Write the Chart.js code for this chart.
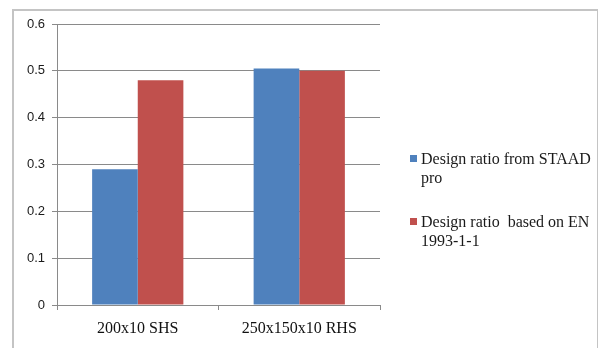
<!DOCTYPE html>
<html>
<head>
<meta charset="utf-8">
<script src="https://cdn.jsdelivr.net/npm/chart.js@4/dist/chart.umd.min.js"></script>
<style>
  html, body { margin: 0; padding: 0; background: #fff; }
  #wrap { position: relative; width: 600px; height: 348px; overflow: hidden; background: #fff; }
  #frame { position: absolute; left: 12px; top: 9px; width: 586px; height: 400px;
           border: 2px solid #c4c4c4; border-right-width: 1px; box-sizing: border-box; }
  #chart { position: absolute; left: 0; top: 0; }
  .legend-item { position: absolute; left: 410px; font-family: "Liberation Serif", "Times New Roman", serif;
                 font-size: 16px; line-height: 19px; color: #1a1a1a; }
  .legend-item .swatch { position: absolute; left: 0; width: 7px; height: 7px; }
  .legend-item .label { position: absolute; left: 11px; width: 185px; white-space: pre; }
</style>
</head>
<body>
<div id="wrap">
  <div id="frame"></div>
  <canvas id="chart" width="600" height="348"></canvas>
  <div id="legend"></div>
</div>
<script>
// Section types compared
const categories = ['200x10 SHS', '250x150x10 RHS'];

// Utilisation ratios
const staadRatios = [0.29, 0.505];
const en1993Ratios = [0.48, 0.50];

// Series names and colours
const seriesNames = ['Design ratio from STAAD\npro', 'Design ratio  based on EN\n1993-1-1'];
const seriesColors = ['#4F81BD', '#C0504D'];

// Value axis range
const yMin = 0, yMax = 0.6, yStep = 0.1;

const gridGray = '#8a8a8a';

new Chart(document.getElementById('chart'), {
  type: 'bar',
  data: {
    labels: categories,
    datasets: [
      { label: seriesNames[0], data: staadRatios, backgroundColor: seriesColors[0],
        categoryPercentage: 0.565, barPercentage: 1.0, borderWidth: 0 },
      { label: seriesNames[1], data: en1993Ratios, backgroundColor: seriesColors[1],
        categoryPercentage: 0.565, barPercentage: 1.0, borderWidth: 0 }
    ]
  },
  options: {
    responsive: false,
    animation: false,
    layout: { padding: { left: 0, top: 24, right: 220, bottom: 0 } },
    plugins: { legend: { display: false }, tooltip: { enabled: false } },
    scales: {
      x: {
        grid: { offset: true, drawOnChartArea: false, drawTicks: true, tickLength: 5, color: gridGray },
        border: { color: gridGray, width: 1 },
        ticks: { color: '#111', padding: 9, maxRotation: 0,
                 font: { family: '"Liberation Serif", "Times New Roman", serif', size: 16 } },
        afterFit: (scale) => { scale.height = 43; }
      },
      y: {
        min: yMin, max: yMax,
        grid: { color: gridGray, tickLength: 5 },
        border: { color: gridGray, width: 1 },
        ticks: { stepSize: yStep, color: '#1a1a1a', padding: 7,
                 font: { family: '"Liberation Sans", Arial, sans-serif', size: 13 },
                 callback: (v) => String(Number(v.toFixed(1))) },
        afterFit: (scale) => { scale.width = 57; }
      }
    }
  }
});

// Legend on the right, with wrapped series names
const legendTops = [149, 212];
const legend = document.getElementById('legend');
seriesNames.forEach((name, i) => {
  const item = document.createElement('div');
  item.className = 'legend-item';
  item.style.top = legendTops[i] + 'px';
  const sw = document.createElement('div');
  sw.className = 'swatch';
  sw.style.background = seriesColors[i];
  sw.style.top = '6px';
  const lb = document.createElement('div');
  lb.className = 'label';
  lb.textContent = name;
  item.appendChild(sw);
  item.appendChild(lb);
  legend.appendChild(item);
});
</script>
</body>
</html>
